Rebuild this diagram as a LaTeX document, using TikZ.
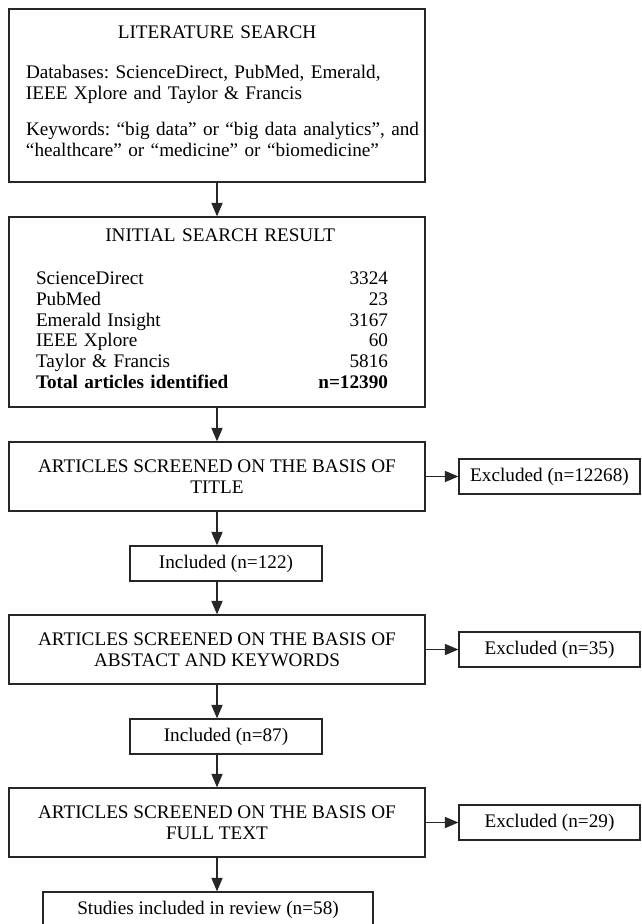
\documentclass[tikz,border=0pt]{standalone}
\usepackage{fontspec}
\setmainfont{Liberation Serif}
\usetikzlibrary{arrows.meta}
\setlength{\parindent}{0pt}
\frenchspacing

\begin{document}
\begin{tikzpicture}[
    font=\fontsize{13.66pt}{15.1pt}\selectfont,
    box/.style={draw=black!85, line width=0.9pt, minimum width=10.4cm, inner sep=0pt},
    smallbox/.style={draw=black!85, line width=0.9pt, minimum height=0.875cm, inner sep=0pt},
    arr/.style={draw=black!85, line width=0.9pt, -{Triangle[length=0.34cm,width=0.28cm]}}
]

\useasboundingbox (0,0) rectangle (16.025,-23.1);

\node[box, minimum height=4.325cm, text width=10.2cm] (lit) at (5.425,-2.3875) {%
{\centering LITERATURE SEARCH\par}\vspace{0.47cm}
\raggedright\leftskip=0.325cm
Databases: ScienceDirect, PubMed, Emerald,\\
IEEE Xplore and Taylor \& Francis\par\vspace{0.36cm}
Keywords: “big data” or “big data analytics”, and\\
“healthcare” or “medicine” or “biomedicine”\par\vspace{0.2cm}\hrule height 0pt};

\node[box, minimum height=4.75cm, text width=9.6cm] (init) at (5.425,-7.8) {%
\vspace*{0.37cm}
{\centering INITIAL SEARCH RESULT\par}\vspace{0.29cm}
\hspace*{0.275cm}{\renewcommand{\arraystretch}{0.98}%
\begin{tabular*}{8.8cm}{@{}l@{\extracolsep{\fill}}r@{}}
ScienceDirect & 3324 \\
PubMed & 23 \\
Emerald Insight & 3167 \\
IEEE Xplore & 60 \\
Taylor \& Francis & 5816 \\
\textbf{Total articles identified} & \textbf{n=12390}
\end{tabular*}}};

\node[box, minimum height=1.725cm, align=center] (title) at (5.425,-11.9125)
    {ARTICLES SCREENED ON THE BASIS OF\\ TITLE};
\node[smallbox, minimum width=4.525cm] (exc1) at (13.7375,-11.9125) {Excluded (n=12268)};
\node[smallbox, minimum width=4.8cm] (inc1) at (5.65,-14.0875) {Included (n=122)};

\node[box, minimum height=1.725cm, align=center] (abs) at (5.425,-16.2375)
    {ARTICLES SCREENED ON THE BASIS OF\\ ABSTACT AND KEYWORDS};
\node[smallbox, minimum width=4.525cm] (exc2) at (13.7375,-16.2375) {Excluded (n=35)};
\node[smallbox, minimum width=4.8cm] (inc2) at (5.65,-18.4125) {Included (n=87)};

\node[box, minimum height=1.725cm, align=center] (full) at (5.425,-20.5625)
    {ARTICLES SCREENED ON THE BASIS OF\\ FULL TEXT};
\node[smallbox, minimum width=4.525cm] (exc3) at (13.7375,-20.5625) {Excluded (n=29)};
\node[smallbox, minimum width=8.25cm] (stud) at (5.2,-22.7375) {Studies included in review (n=58)};

\draw[arr] (lit) -- (init);
\draw[arr] (init) -- (title);
\draw[arr] (title) -- (exc1);
\draw[arr] (title) -- (title |- inc1.north);
\draw[arr] (inc1.south -| title) -- (abs);
\draw[arr] (abs) -- (exc2);
\draw[arr] (abs) -- (abs |- inc2.north);
\draw[arr] (inc2.south -| abs) -- (full);
\draw[arr] (full) -- (exc3);
\draw[arr] (full) -- (full |- stud.north);

\end{tikzpicture}
\end{document}
